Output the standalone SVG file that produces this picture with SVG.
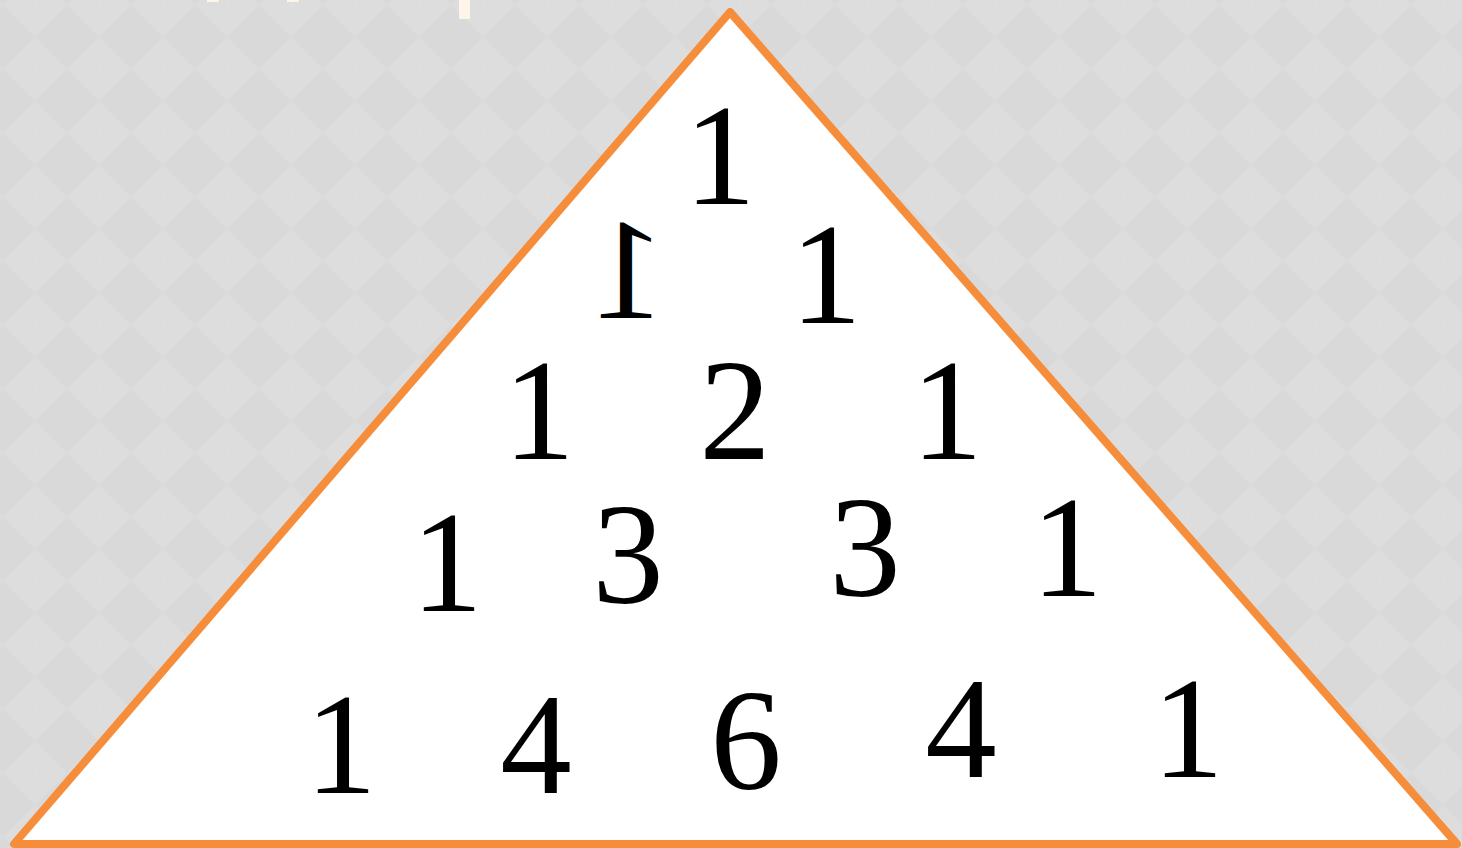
<svg xmlns="http://www.w3.org/2000/svg" width="1462" height="848" viewBox="0 0 1462 848">
  <style>
    .num { font-family: 'Liberation Serif', 'Times New Roman', Times, serif; font-size: 143px; fill: #000000; text-anchor: middle; }
    .mark { fill: #fdf4ea; }
  </style>
  <defs>
    <pattern id="bg" patternUnits="userSpaceOnUse" x="3" y="-27" width="64" height="64">
      <rect width="64" height="64" fill="#d9d9d9"/>
      <polygon points="32,0 64,32 32,64 0,32" fill="#dddddd"/>
      <circle cx="32" cy="32" r="1.5" fill="#e2e2e2"/>
    </pattern>
  </defs>
  <rect x="0" y="0" width="1462" height="848" fill="url(#bg)"/>
  <g id="title-fragments">
    <rect class="mark" x="207" y="0" width="12" height="2"/>
    <rect class="mark" x="287" y="0" width="12" height="2"/>
    <rect class="mark" x="459" y="0" width="11" height="19"/>
  </g>
  <g id="triangle">
    <polygon points="730,12 14,844 1457,844" fill="#ffffff" stroke="#f68d3b" stroke-width="8" stroke-linejoin="round"/>
  </g>
  <g id="row1">
    <text class="num" x="720" y="204">1</text>
  </g>
  <g id="row2">
    <text class="num" transform="translate(628,318) scale(-1,1)" x="0" y="0">1</text>
    <text class="num" x="826" y="323">1</text>
  </g>
  <g id="row3">
    <text class="num" x="539" y="459">1</text>
    <text class="num" x="735" y="459">2</text>
    <text class="num" x="947" y="459">1</text>
  </g>
  <g id="row4">
    <text class="num" x="447" y="611">1</text>
    <text class="num" x="628" y="603">3</text>
    <text class="num" x="865" y="596">3</text>
    <text class="num" x="1067" y="596">1</text>
  </g>
  <g id="row5">
    <text class="num" x="341" y="793">1</text>
    <text class="num" x="536" y="793">4</text>
    <text class="num" x="746" y="789">6</text>
    <text class="num" x="961" y="777">4</text>
    <text class="num" x="1188" y="777">1</text>
  </g>
</svg>
